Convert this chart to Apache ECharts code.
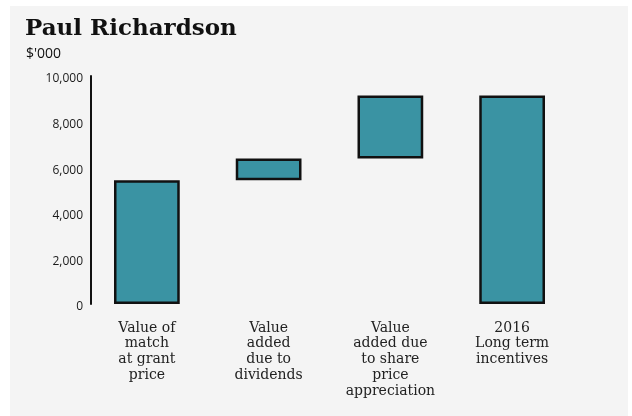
<!DOCTYPE html>
<html>
<head>
<meta charset="utf-8">
<script src="https://cdn.jsdelivr.net/npm/echarts@6/dist/echarts.min.js"></script>
<style>
  html, body { margin: 0; padding: 0; background: #ffffff; }
  #chart { width: 632px; height: 416px; }
</style>
</head>
<body>
<div id="chart"></div>
<script>
// Waterfall of long-term incentive value ($'000)
const categories = [
  'Value of\nmatch\nat grant\nprice',
  'Value\nadded\ndue to\ndividends',
  'Value\nadded due\nto share\nprice\nappreciation',
  '2016\nLong term\nincentives'
];
// Step amounts; the last entry is the total bar
const stepValues = [5430, 950, 2760];
const totalValue = 9140;
const yTicks = [0, 2000, 4000, 6000, 8000, 10000];

// Invisible offsets so each step floats on the running total
const offsets = [];
const visible = [];
let running = 0;
stepValues.forEach(v => { offsets.push(running); visible.push(v); running += v; });
offsets.push(0);
visible.push(totalValue);

const chart = echarts.init(document.getElementById('chart'), null, { renderer: 'canvas' });
const serif = '"DejaVu Serif", "Liberation Serif", serif';
const sans = '"Open Sans", "Noto Sans", sans-serif';

chart.setOption({
  animation: false,
  graphic: [
    { type: 'rect', left: 10, top: 6, shape: { width: 618, height: 410 }, style: { fill: '#f4f4f4' }, z: -10 },
    { type: 'text', left: 25, top: 18, style: { text: 'Paul Richardson', font: 'bold 23px ' + serif, fill: '#111' } },
    { type: 'text', left: 26, top: 47, style: { text: "$'000", font: '14px ' + sans, fill: '#111' } }
  ],
  grid: { left: 86, width: 487, top: 76, height: 228 },
  xAxis: {
    type: 'category',
    data: categories,
    axisLine: { show: false },
    axisTick: { show: false },
    axisLabel: {
      interval: 0,
      margin: 16,
      color: '#222',
      fontFamily: serif,
      fontSize: 14,
      lineHeight: 15.8,
      align: 'center'
    }
  },
  yAxis: {
    type: 'value',
    min: yTicks[0],
    max: yTicks[yTicks.length - 1],
    interval: 2000,
    offset: -5,
    axisLine: { show: true, lineStyle: { color: '#111', width: 2 } },
    axisTick: { show: false },
    splitLine: { show: false },
    axisLabel: {
      margin: 8,
      color: '#1a1a1a',
      fontFamily: sans,
      fontSize: 12,
      verticalAlign: 'top',
      lineHeight: 6,
      formatter: v => v.toLocaleString('en-US')
    }
  },
  series: [
    {
      type: 'bar',
      stack: 'w',
      data: offsets,
      barWidth: '54%',
      itemStyle: { color: 'transparent' },
      silent: true
    },
    {
      type: 'bar',
      stack: 'w',
      data: visible,
      barWidth: '54%',
      itemStyle: { color: '#3a93a3', borderColor: '#111', borderWidth: 2.5 }
    }
  ]
});
</script>
</body>
</html>
